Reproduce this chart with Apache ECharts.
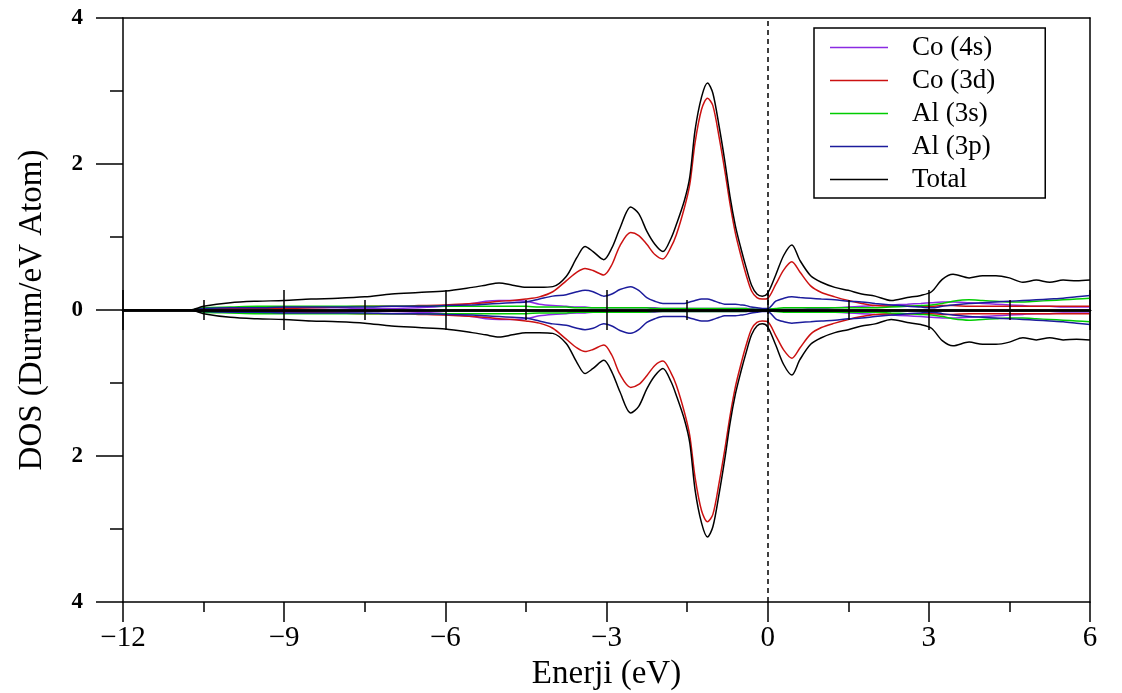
<!DOCTYPE html>
<html>
<head>
<meta charset="utf-8">
<title>CoAl DOS</title>
<script src="https://cdn.jsdelivr.net/npm/echarts@6/dist/echarts.min.js"></script>
<style>
  html, body { margin: 0; padding: 0; background: #ffffff; }
  #chart { width: 1122px; height: 693px; }
</style>
</head>
<body>
<div id="chart"></div>
<script>
// Energy grid (eV, relative to the Fermi level)
const energy = [
  -12, -10.75, -10.5, -10, -9.5,
  -9, -8.5, -8, -7.5, -7,
  -6.5, -6, -5.5, -5.25, -5,
  -4.75, -4.5, -4.25, -4, -3.75,
  -3.55, -3.4, -3.25, -3.05, -2.9,
  -2.75, -2.55, -2.4, -2.25, -2.1,
  -1.95, -1.8, -1.7, -1.55, -1.45,
  -1.35, -1.23, -1.12, -1.02, -0.9,
  -0.8, -0.7, -0.6, -0.5, -0.4,
  -0.3, -0.2, -0.1, 0, 0.15,
  0.3, 0.45, 0.6, 0.8, 1.0,
  1.25, 1.5, 1.75, 2.0, 2.3,
  2.6, 2.85, 3.05, 3.25, 3.45,
  3.75, 4.0, 4.25, 4.5, 4.75,
  5.0, 5.25, 5.5, 5.75, 6
];

// Partial and total DOS (states/eV atom), one value per energy point
const co4s = [
  0, 0, 0.01, 0.02, 0.03,
  0.03, 0.03, 0.03, 0.02, 0.02,
  0.03, 0.05, 0.09, 0.12, 0.13,
  0.13, 0.12, 0.08, 0.06, 0.05,
  0.04, 0.04, 0.03, 0.03, 0.03,
  0.03, 0.03, 0.03, 0.03, 0.03,
  0.02, 0.02, 0.02, 0.02, 0.02,
  0.02, 0.02, 0.02, 0.02, 0.02,
  0.02, 0.02, 0.02, 0.02, 0.02,
  0.02, 0.01, 0.01, 0.01, 0.01,
  0.01, 0.01, 0.01, 0.02, 0.02,
  0.03, 0.04, 0.05, 0.06, 0.07,
  0.08, 0.09, 0.10, 0.11, 0.11,
  0.10, 0.09, 0.08, 0.07, 0.06,
  0.05, 0.05, 0.04, 0.04, 0.04
];
const co3d = [
  0, 0, 0.01, 0.02, 0.02,
  0.02, 0.03, 0.04, 0.05, 0.05,
  0.06, 0.07, 0.09, 0.10, 0.12,
  0.13, 0.15, 0.18, 0.25, 0.40,
  0.52, 0.57, 0.54, 0.48, 0.62,
  0.88, 1.06, 1.02, 0.90, 0.76,
  0.70, 0.86, 1.03, 1.40, 1.72,
  2.30, 2.75, 2.90, 2.80, 2.35,
  1.92, 1.45, 1.05, 0.75, 0.48,
  0.26, 0.17, 0.15, 0.16, 0.35,
  0.55, 0.66, 0.52, 0.33, 0.24,
  0.18, 0.13, 0.09, 0.06, 0.05,
  0.05, 0.05, 0.05, 0.06, 0.06,
  0.05, 0.05, 0.05, 0.05, 0.05,
  0.05, 0.05, 0.05, 0.05, 0.05
];
const al3s = [
  0, 0, 0.03, 0.04, 0.05,
  0.05, 0.05, 0.05, 0.05, 0.05,
  0.05, 0.05, 0.05, 0.05, 0.05,
  0.05, 0.05, 0.04, 0.04, 0.04,
  0.03, 0.03, 0.03, 0.03, 0.03,
  0.03, 0.03, 0.03, 0.03, 0.02,
  0.02, 0.02, 0.02, 0.02, 0.02,
  0.02, 0.02, 0.02, 0.02, 0.02,
  0.02, 0.02, 0.02, 0.02, 0.02,
  0.01, 0.01, 0.01, 0.01, 0.02,
  0.03, 0.03, 0.03, 0.03, 0.03,
  0.03, 0.03, 0.03, 0.03, 0.04,
  0.05, 0.06, 0.07, 0.09, 0.12,
  0.14, 0.13, 0.12, 0.11, 0.11,
  0.12, 0.13, 0.14, 0.15, 0.16
];
const al3p = [
  0, 0, 0.02, 0.03, 0.03,
  0.04, 0.04, 0.04, 0.04, 0.05,
  0.05, 0.06, 0.07, 0.08, 0.09,
  0.10, 0.11, 0.15, 0.19, 0.21,
  0.25, 0.27, 0.25, 0.19, 0.22,
  0.28, 0.32, 0.27, 0.17, 0.12,
  0.09, 0.09, 0.09, 0.09, 0.11,
  0.13, 0.15, 0.15, 0.13, 0.10,
  0.08, 0.08, 0.08, 0.07, 0.06,
  0.04, 0.03, 0.02, 0.02, 0.12,
  0.16, 0.18, 0.17, 0.16, 0.15,
  0.14, 0.12, 0.11, 0.09, 0.07,
  0.05, 0.04, 0.03, 0.05, 0.07,
  0.09, 0.10, 0.11, 0.12, 0.13,
  0.14, 0.15, 0.16, 0.18, 0.20
];
const total = [
  0, 0, 0.05, 0.10, 0.12,
  0.13, 0.15, 0.16, 0.18, 0.22,
  0.24, 0.26, 0.31, 0.34, 0.37,
  0.34, 0.31, 0.31, 0.32, 0.46,
  0.72, 0.87, 0.80, 0.69, 0.85,
  1.12, 1.41, 1.32, 1.08, 0.90,
  0.80, 0.98, 1.17, 1.50, 1.82,
  2.47, 2.92, 3.11, 2.97, 2.50,
  2.05, 1.55, 1.15, 0.85, 0.58,
  0.34, 0.22, 0.19, 0.23, 0.48,
  0.75, 0.89, 0.68, 0.47, 0.38,
  0.31, 0.27, 0.22, 0.19, 0.13,
  0.17, 0.20, 0.25, 0.42, 0.49,
  0.44, 0.47, 0.47, 0.44, 0.38,
  0.41, 0.38, 0.41, 0.40, 0.41
];

const seriesNames = ['Co (4s)', 'Co (3d)', 'Al (3s)', 'Al (3p)', 'Total'];
const seriesValues = [co4s, co3d, al3s, al3p, total];
const seriesColors = ['#8a2be2', '#cc1111', '#00cc00', '#1c1c9c', '#000000'];

const FONT = '"Liberation Serif", "Times New Roman", serif';

// Spin-up channel drawn upward, spin-down channel mirrored below zero
// (both channels are identical for this non-magnetic compound).
const series = [];
seriesNames.forEach((name, k) => {
  const vals = seriesValues[k];
  [1, -1].forEach((sign) => {
    series.push({
      name: name,
      type: 'line',
      xAxisIndex: 0,
      yAxisIndex: 0,
      symbol: 'none',
      smooth: 0.3,
      z: 2 + k * 0.1,
      lineStyle: { color: seriesColors[k], width: 1.5 },
      itemStyle: { color: seriesColors[k] },
      data: energy.map((e, i) => [e, sign * vals[i]])
    });
  });
});

// Fermi level marker
series[series.length - 2].markLine = {
  silent: true,
  symbol: ['none', 'none'],
  label: { show: false },
  lineStyle: { color: '#000000', type: [5, 4], width: 1.5 },
  data: [{ xAxis: 0 }]
};

const chart = echarts.init(document.getElementById('chart'), null, { renderer: 'canvas' });

const xBase = { type: 'value', min: -12, max: 6, interval: 3, splitLine: { show: false } };

chart.setOption({
  backgroundColor: '#ffffff',
  animation: false,
  grid: { left: 123, right: 32, top: 18, bottom: 91, containLabel: false, outerBoundsMode: 'none' },
  legend: {
    data: seriesNames,
    orient: 'vertical',
    left: 814,
    top: 28,
    icon: 'rect',
    itemWidth: 58,
    itemHeight: 1.5,
    itemGap: 6,
    padding: [6, 50, 5, 16],
    borderColor: '#000000',
    borderWidth: 1.5,
    backgroundColor: '#ffffff',
    textStyle: { fontFamily: FONT, fontSize: 27, color: '#000000', padding: [0, 0, 0, 19] }
  },
  xAxis: [
    Object.assign({}, xBase, {
      position: 'bottom',
      name: 'Enerji (eV)',
      nameLocation: 'middle',
      nameGap: 50,
      nameTextStyle: { fontFamily: FONT, fontSize: 33, color: '#000000' },
      axisLine: { onZero: false, lineStyle: { color: '#000000', width: 1.5 } },
      axisTick: { show: true, inside: false, length: 20, lineStyle: { color: '#000000', width: 1.5 } },
      minorTick: { show: true, splitNumber: 2, length: 10, lineStyle: { color: '#000000', width: 1.5 } },
      axisLabel: {
        fontFamily: FONT, fontSize: 29, color: '#000000', margin: 22,
        formatter: (v) => String(v).replace('-', '\u2212')
      }
    }),
    Object.assign({}, xBase, {
      position: 'top',
      axisLine: { onZero: false, lineStyle: { color: '#000000', width: 1.5 } },
      axisTick: { show: false },
      axisLabel: { show: false }
    }),
    // zero line with ticks crossing it on both sides
    Object.assign({}, xBase, {
      position: 'bottom',
      z: 5,
      axisLine: { onZero: true, onZeroAxisIndex: 0, lineStyle: { color: '#000000', width: 2.5 } },
      axisTick: { show: true, inside: false, length: 20, lineStyle: { color: '#000000', width: 1.5 } },
      minorTick: { show: true, splitNumber: 2, length: 10, lineStyle: { color: '#000000', width: 1.5 } },
      axisLabel: { show: false }
    }),
    Object.assign({}, xBase, {
      position: 'bottom',
      z: 5,
      axisLine: { onZero: true, onZeroAxisIndex: 0, lineStyle: { color: '#000000', width: 2.5 } },
      axisTick: { show: true, inside: true, length: 20, lineStyle: { color: '#000000', width: 1.5 } },
      minorTick: { show: true, splitNumber: 2, length: 10, lineStyle: { color: '#000000', width: 1.5 } },
      axisLabel: { show: false }
    })
  ],
  yAxis: [
    {
      type: 'value', min: -4, max: 4, interval: 2, position: 'left',
      name: 'DOS (Durum/eV Atom)',
      nameLocation: 'middle',
      nameGap: 74,
      nameRotate: 90,
      nameTextStyle: { fontFamily: FONT, fontSize: 33, color: '#000000' },
      splitLine: { show: false },
      axisLine: { onZero: false, lineStyle: { color: '#000000', width: 1.5 } },
      axisTick: { show: true, inside: false, length: 27, lineStyle: { color: '#000000', width: 1.5 } },
      minorTick: { show: true, splitNumber: 2, length: 13, lineStyle: { color: '#000000', width: 1.5 } },
      axisLabel: {
        fontFamily: FONT, fontSize: 23, fontWeight: 'bold', color: '#000000', margin: 40,
        formatter: (v) => String(Math.abs(v))
      }
    },
    {
      type: 'value', min: -4, max: 4, position: 'right',
      splitLine: { show: false },
      axisLine: { show: true, onZero: false, lineStyle: { color: '#000000', width: 1.5 } },
      axisTick: { show: false },
      axisLabel: { show: false }
    }
  ],
  series: series
});
</script>
</body>
</html>
